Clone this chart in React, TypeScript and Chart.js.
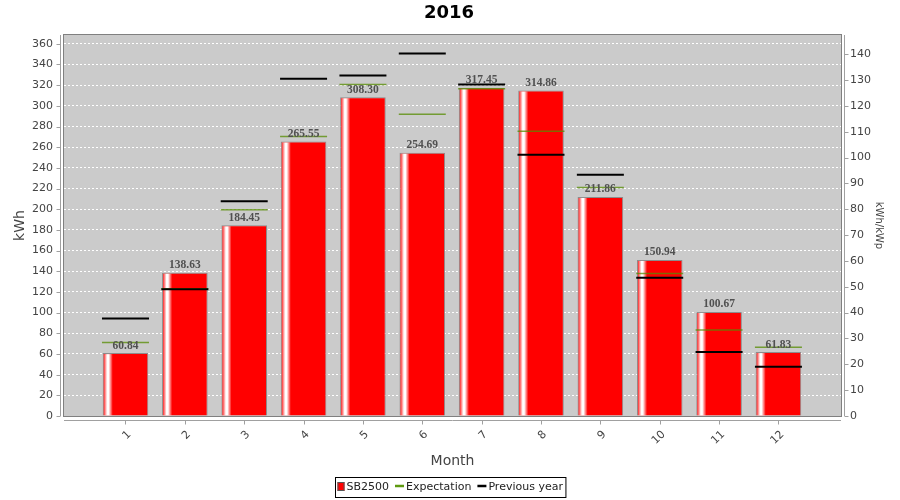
import React, { useEffect, useRef } from 'react';
import { Chart, registerables } from 'chart.js';

Chart.register(...registerables);

const chartTitle = '2016';
const months = [1, 2, 3, 4, 5, 6, 7, 8, 9, 10, 11, 12];
const monthLabels = ['1', '2', '3', '4', '5', '6', '7', '8', '9', '10', '11', '12'];
const production = [60.84, 138.63, 184.45, 265.55, 308.3, 254.69, 317.45, 314.86, 211.86, 150.94, 100.67, 61.83];
const expectation = [71, 123, 199.6, 270.4, 320.6, 291.9, 316.4, 275.5, 221.1, 137.8, 83.1, 66.6];
const previousYear = [94.3, 122.6, 207.6, 326.1, 329.3, 350.6, 320.6, 252.6, 233.4, 133.6, 61.8, 47.6];
const seriesNames = ['SB2500', 'Expectation', 'Previous year'];
const leftAxisTitle = 'kWh';
const rightAxisTitle = 'kWh/kWp';
const xAxisTitle = 'Month';
const kWp = 2.5;
const yMax = 368.5;
const xMin = -0.036;
const xMax = 13.054;

const TICK_FONT = { family: '"DejaVu Sans", sans-serif', size: 11 };
const TICK_COLOR = '#444444';
const GREEN = 'rgba(85,140,0,0.75)';

const decorPlugin = {
  id: 'decor',
  beforeDraw(chart: any) {
    const { ctx, chartArea: a } = chart;
    ctx.save();
    ctx.fillStyle = '#cbcbcb';
    ctx.fillRect(a.left, a.top, a.right - a.left, a.bottom - a.top);
    ctx.restore();
  },
  beforeDatasetsDraw(chart: any) {
    const { ctx, chartArea: a } = chart;
    ctx.save();
    ctx.strokeStyle = '#808080';
    ctx.lineWidth = 1;
    ctx.strokeRect(a.left - 0.5, a.top - 0.5, a.right - a.left + 1, a.bottom - a.top + 1);
    // axis lines and tick marks
    ctx.strokeStyle = '#a0a0a0';
    ctx.beginPath();
    const lx = a.left - 3.5;
    ctx.moveTo(lx, a.top);
    ctx.lineTo(lx, a.bottom);
    const rx = a.right + 3.5;
    ctx.moveTo(rx, a.top);
    ctx.lineTo(rx, a.bottom);
    const by = a.bottom + 4.5;
    ctx.moveTo(a.left, by);
    ctx.lineTo(a.right, by);
    const ys = chart.scales.y;
    ys.ticks.forEach((t: any) => {
      const p = Math.round(ys.getPixelForValue(t.value)) + 0.5;
      ctx.moveTo(lx - 4, p);
      ctx.lineTo(lx, p);
    });
    const y1 = chart.scales.y1;
    y1.ticks.forEach((t: any) => {
      const p = Math.round(y1.getPixelForValue(t.value)) + 0.5;
      ctx.moveTo(rx, p);
      ctx.lineTo(rx + 4, p);
    });
    const xs = chart.scales.x;
    xs.ticks.forEach((t: any) => {
      const p = Math.round(xs.getPixelForValue(t.value)) + 0.5;
      ctx.moveTo(p, by);
      ctx.lineTo(p, by + 4);
    });
    ctx.stroke();
    ctx.restore();
  },
  afterDatasetDraw(chart: any, args: any) {
    if (args.index !== 0) return;
    const { ctx } = chart;
    const meta = chart.getDatasetMeta(0);
    ctx.save();
    meta.data.forEach((el: any) => {
      const { x, y, base, width } = el.getProps(['x', 'y', 'base', 'width'], true);
      const left = x - width / 2 + 1;
      const w = width * 0.2;
      const g = ctx.createLinearGradient(left, 0, left + w, 0);
      g.addColorStop(0, 'rgba(255,255,255,0.15)');
      g.addColorStop(0.38, 'rgba(255,255,255,1)');
      g.addColorStop(0.55, 'rgba(255,255,255,1)');
      g.addColorStop(1, 'rgba(255,255,255,0)');
      ctx.fillStyle = g;
      ctx.fillRect(left, y + 1, w, base - y - 1);
    });
    ctx.restore();
  },
  afterDatasetsDraw(chart: any) {
    const { ctx } = chart;
    const meta = chart.getDatasetMeta(0);
    ctx.save();
    ctx.font = 'bold 11.5px "Liberation Serif", serif';
    ctx.fillStyle = '#505050';
    ctx.textAlign = 'center';
    ctx.textBaseline = 'alphabetic';
    meta.data.forEach((el: any, i: number) => {
      const { x, y } = el.getProps(['x', 'y'], true);
      ctx.fillText(production[i].toFixed(2), x, y - 4.5);
    });
    ctx.restore();
  },
  afterDraw(chart: any) {
    const { ctx, chartArea: a } = chart;
    ctx.save();
    // title
    ctx.fillStyle = '#000';
    ctx.font = 'bold 18px "DejaVu Sans", sans-serif';
    ctx.textAlign = 'center';
    ctx.textBaseline = 'middle';
    ctx.fillText(chartTitle, 449, 13);
    // axis titles
    ctx.fillStyle = '#444444';
    ctx.font = '14px "DejaVu Sans", sans-serif';
    ctx.fillText(xAxisTitle, (a.left + a.right) / 2, 461);
    const cy = (a.top + a.bottom) / 2;
    ctx.save();
    ctx.translate(20, cy);
    ctx.rotate(-Math.PI / 2);
    ctx.fillText(leftAxisTitle, 0, 0);
    ctx.restore();
    ctx.save();
    ctx.translate(879, cy);
    ctx.rotate(Math.PI / 2);
    ctx.font = '10px "DejaVu Sans", sans-serif';
    ctx.fillText(rightAxisTitle, 0, 0);
    ctx.restore();
    // legend
    ctx.font = '11px "DejaVu Sans", sans-serif';
    ctx.textAlign = 'left';
    const iconW = [7, 9, 9];
    const widths = seriesNames.map((n) => ctx.measureText(n).width);
    let total = 2;
    seriesNames.forEach((_, i) => {
      total += iconW[i] + 2 + widths[i] + (i < seriesNames.length - 1 ? 6 : 3);
    });
    const bx = Math.round(450 - total / 2) + 0.5;
    const bTop = 477.5;
    const bH = 20;
    ctx.fillStyle = '#ffffff';
    ctx.fillRect(bx, bTop, total, bH);
    ctx.strokeStyle = '#000';
    ctx.lineWidth = 1;
    ctx.strokeRect(bx, bTop, total, bH);
    let cx = bx + 2;
    const my = 487;
    seriesNames.forEach((n, i) => {
      if (i === 0) {
        ctx.fillStyle = '#ff0000';
        ctx.fillRect(cx, my - 5, 7, 9);
        ctx.strokeStyle = '#555';
        ctx.strokeRect(cx + 0.5, my - 4.5, 6, 8);
      } else {
        ctx.strokeStyle = i === 1 ? '#5e9a10' : '#000';
        ctx.lineWidth = 2.5;
        ctx.beginPath();
        ctx.moveTo(cx, my - 1);
        ctx.lineTo(cx + 9, my - 1);
        ctx.stroke();
        ctx.lineWidth = 1;
      }
      cx += iconW[i] + 2;
      ctx.fillStyle = '#222';
      ctx.textBaseline = 'middle';
      ctx.fillText(n, cx, my);
      cx += widths[i] + 6;
    });
    ctx.restore();
  },
};

export default function App() {
  const ref = useRef<HTMLCanvasElement | null>(null);
  useEffect(() => {
    if (!ref.current) return;
    const chart = new Chart(ref.current, {
      type: 'bar',
      data: {
        datasets: [
          {
            type: 'bar',
            label: seriesNames[0],
            data: months.map((m, i) => ({ x: m, y: production[i] })),
            backgroundColor: '#ff0000',
            borderColor: '#8c8c8c',
            borderWidth: 1,
            barPercentage: 1,
            categoryPercentage: 0.768,
            order: 3,
            xAxisID: 'x',
            yAxisID: 'y',
          },
          {
            type: 'line',
            label: seriesNames[1],
            data: months.map((m, i) => ({ x: m, y: expectation[i] })),
            showLine: false,
            pointStyle: 'line',
            pointRadius: 23.5,
            pointBorderWidth: 1.5,
            pointBorderColor: GREEN,
            pointBackgroundColor: GREEN,
            order: 2,
            xAxisID: 'x',
            yAxisID: 'y',
          },
          {
            type: 'line',
            label: seriesNames[2],
            data: months.map((m, i) => ({ x: m, y: previousYear[i] })),
            showLine: false,
            pointStyle: 'line',
            pointRadius: 23.5,
            pointBorderWidth: 2,
            pointBorderColor: '#000000',
            pointBackgroundColor: '#000000',
            order: 1,
            xAxisID: 'x',
            yAxisID: 'y',
          },
        ] as any,
      },
      options: {
        responsive: false,
        animation: false,
        events: [],
        layout: { padding: { top: 35, left: 0, right: 0, bottom: 0 } },
        plugins: {
          legend: { display: false },
          title: { display: false },
          tooltip: { enabled: false },
        },
        scales: {
          x: {
            type: 'linear',
            position: 'bottom',
            min: xMin,
            max: xMax,
            offset: false,
            grid: { display: false },
            border: { display: false },
            ticks: {
              font: TICK_FONT,
              color: TICK_COLOR,
              minRotation: 45,
              maxRotation: 45,
              autoSkip: false,
              padding: 4,
              labelOffset: 4,
              callback: (v: any) => {
                const idx = months.indexOf(Number(v));
                return idx >= 0 ? monthLabels[idx] : '';
              },
            },
            afterBuildTicks: (s: any) => {
              s.ticks = months.map((v) => ({ value: v }));
            },
            afterFit: (s: any) => {
              s.height = 84;
            },
          },
          y: {
            position: 'left',
            min: 0,
            max: yMax,
            grid: { color: '#ffffff', drawTicks: false, lineWidth: 1 },
            border: { display: false, dash: [2, 2] },
            ticks: { stepSize: 20, includeBounds: false, font: TICK_FONT, color: TICK_COLOR, padding: 11 },
            afterFit: (s: any) => {
              s.width = 64;
            },
          },
          y1: {
            position: 'right',
            min: 0,
            max: yMax / kWp,
            grid: { display: false, drawTicks: false },
            border: { display: false },
            ticks: { stepSize: 10, includeBounds: false, font: TICK_FONT, color: TICK_COLOR, padding: 9 },
            afterFit: (s: any) => {
              s.width = 59;
            },
          },
        },
      } as any,
      plugins: [decorPlugin],
    });
    return () => chart.destroy();
  }, []);
  return (
    <div style={{ position: 'absolute', left: 0, top: 0, width: 900, height: 500, background: '#fff' }}>
      <canvas ref={ref} width={900} height={500} style={{ display: 'block' }} />
    </div>
  );
}
